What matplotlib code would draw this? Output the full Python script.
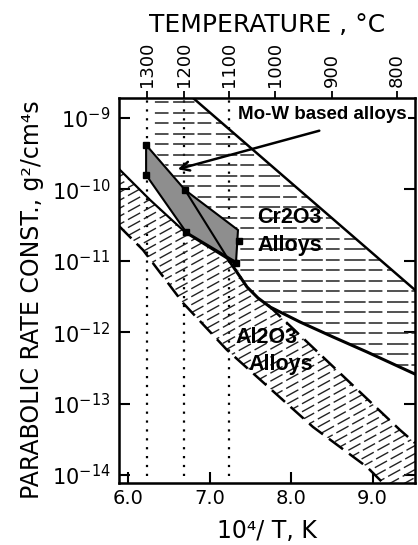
import numpy as np
import matplotlib
matplotlib.use("Agg")
import matplotlib.pyplot as plt
from matplotlib.patches import Polygon

plt.rcParams['font.family'] = ['DejaVu Sans']
plt.rcParams['mathtext.fontset'] = 'dejavusans'
ann_font = ['Liberation Sans', 'DejaVu Sans']

# temperature scale on top (deg C) and where each sits on the 10^4/T axis
temp_c = [1300, 1200, 1100, 1000, 900, 800]
temp_x = [6.225, 6.683, 7.236, 7.801, 8.501, 9.300]

x_ticks = [6.0, 7.0, 8.0, 9.0]
y_exp = [-9, -10, -11, -12, -13, -14]

# Cr2O3 alloys band (10^4/T, log10 kp)
cr_upper_x = [6.794, 9.521]
cr_upper_logk = [-8.72, -11.409]
cr_lower_x = [6.695, 7.248, 7.457, 7.592, 7.740, 8.108, 8.514, 8.931, 9.545]
cr_lower_logk = [-10.008, -11.017, -11.367, -11.521, -11.647, -11.857, -12.067, -12.277, -12.599]

# Al2O3 alloys band
al_upper_x = [5.884, 6.266, 6.708, 7.322, 7.469, 7.715, 9.337, 9.521]
al_upper_logk = [-9.714, -10.148, -10.611, -11.045, -11.409, -11.619, -13.370, -13.552]
al_lower_x = [5.884, 6.179, 6.671, 7.211, 8.268, 8.931, 9.128, 9.521]
al_lower_logk = [-10.513, -10.849, -11.591, -12.249, -13.328, -13.888, -14.112, -14.112]

# Mo-W based alloys (shaded area + measured points)
mow_x = [6.217, 6.695, 7.346, 7.322, 6.708, 6.217]
mow_logk = [-9.378, -10.008, -10.569, -11.017, -10.597, -9.798]
mow_pts_x = [6.217, 6.217, 6.695, 6.708, 7.359, 7.322]
mow_pts_logk = [-9.378, -9.798, -10.008, -10.597, -10.720, -11.030]

xlim = (5.884, 9.521)
ylim_log = (-14.112, -8.72)

fig = plt.figure(figsize=(4.18, 5.45), dpi=100)
ax = fig.add_axes([0.2847, 0.1138, 0.7081, 0.7064])
ax.set_yscale('log')
ax.set_xlim(*xlim)
ax.set_ylim(10 ** ylim_log[0], 10 ** ylim_log[1])

def pts(xs, ls):
    return np.column_stack([xs, 10 ** np.asarray(ls)])

# dotted isotherms at 1300, 1200, 1100 C
for xv in temp_x[:3]:
    ax.plot([xv, xv], [10 ** -14.02, 10 ** ylim_log[1]], color='black',
            lw=1.6, linestyle=(0, (1, 3)), zorder=1)

# --- Cr2O3 band: horizontal dashed hatching
cr_clip = np.vstack([
    pts([6.32], [ylim_log[1]]),
    pts(cr_upper_x, cr_upper_logk),
    pts([9.521], [-12.6]),
    pts(cr_lower_x[::-1], cr_lower_logk[::-1]),
    pts([6.32], [-9.47]),
])
cr_patch = Polygon(cr_clip, closed=True, fill=False, lw=0, transform=ax.transData)
ax.add_patch(cr_patch)
for lk in np.arange(-8.78, -12.7, -0.147):
    ln, = ax.plot([5.8, 9.6], [10 ** lk, 10 ** lk], color='#222222', lw=1.1,
                  linestyle=(0, (9, 3, 14, 2)), zorder=2)
    ln.set_clip_path(cr_patch)

# --- Al2O3 band: inclined dashed hatching
al_clip = np.vstack([pts(al_upper_x, al_upper_logk),
                     pts(al_lower_x[::-1], al_lower_logk[::-1])])
al_patch = Polygon(al_clip, closed=True, fill=False, lw=0, transform=ax.transData)
ax.add_patch(al_patch)
hx = np.array([5.8, 9.6])
for c in np.arange(-9.3, -16.8, -0.112):
    ln, = ax.plot(hx, 10 ** (c + 0.627 * (hx - 6.0)), color='#222222', lw=1.0,
                  linestyle=(0, (10, 3)), zorder=2)
    ln.set_clip_path(al_patch)

# band boundaries
ax.plot(cr_upper_x, 10 ** np.asarray(cr_upper_logk), color='black', lw=1.8, zorder=4)
ax.plot(cr_lower_x, 10 ** np.asarray(cr_lower_logk), color='black', lw=2.2, zorder=4)
ax.plot(al_upper_x[:4], 10 ** np.asarray(al_upper_logk[:4]), color='black', lw=1.6, zorder=4)
ax.plot(al_upper_x[5:], 10 ** np.asarray(al_upper_logk[5:]), color='black', lw=1.8,
        linestyle=(0, (7, 3)), zorder=4)
ax.plot(al_lower_x[:-1], 10 ** np.asarray(al_lower_logk[:-1]), color='black', lw=1.8,
        linestyle=(0, (7, 3)), zorder=4)

# Mo-W shaded area
ax.add_patch(Polygon(pts(mow_x, mow_logk), closed=True, facecolor='#8e8e8e',
                     edgecolor='black', lw=1.5, zorder=5))
ax.plot([mow_x[1], cr_lower_x[1]], [10 ** mow_logk[1], 10 ** cr_lower_logk[1]],
        color='black', lw=1.5, zorder=6)
ax.plot(mow_pts_x, 10 ** np.asarray(mow_pts_logk), 's', color='black', ms=5, zorder=7)

# labels
ax.annotate('', xy=(6.573, 10 ** -9.728), xytext=(8.378, 10 ** -9.168),
            arrowprops=dict(arrowstyle='->', lw=1.8, color='black', mutation_scale=16),
            zorder=8)
ax.text(7.346, 10 ** -8.958, 'Mo-W based alloys', fontsize=13.5, fontweight='bold',
        family=ann_font, ha='left', va='center', zorder=9,
        bbox=dict(facecolor='white', edgecolor='none', pad=1))
ax.text(7.58, 10 ** -10.387, 'Cr2O3', fontsize=15.5, fontweight='bold', family=ann_font,
        ha='left', va='center', zorder=9)
ax.text(7.59, 10 ** -10.779, 'Alloys', fontsize=15.5, fontweight='bold', family=ann_font,
        ha='left', va='center', zorder=9)
ax.text(7.31, 10 ** -12.081, 'Al2O3', fontsize=15.5, fontweight='bold', family=ann_font,
        ha='left', va='center', zorder=9)
ax.text(7.47, 10 ** -12.459, 'Alloys', fontsize=15.5, fontweight='bold', family=ann_font,
        ha='left', va='center', zorder=9)

# axes
ax.set_xticks(x_ticks)
ax.set_xticklabels(['%.1f' % v for v in x_ticks], fontsize=14)
ax.set_yticks([10.0 ** e for e in y_exp])
ax.set_yticklabels([r'$10^{%d}$' % e for e in y_exp], fontsize=15)
ax.minorticks_off()
ax.tick_params(axis='both', direction='in', length=8, width=1.5, pad=4)
ax.tick_params(axis='y', right=True, pad=6)
for s in ax.spines.values():
    s.set_linewidth(1.8)
ax.set_xlabel('10⁴/ T, K', fontsize=17, labelpad=8)

ax2 = ax.twiny()
ax2.set_xlim(*xlim)
ax2.set_xticks(temp_x)
ax2.set_xticklabels([str(t) for t in temp_c], rotation=90, fontsize=13)
ax2.tick_params(axis='x', direction='out', length=5, width=1.3, pad=3)
ax2.set_xlabel('TEMPERATURE , °C', fontsize=18, labelpad=7)

fig.text(0.0766, 0.4495, 'PARABOLIC RATE CONST., g²/cm⁴s', rotation=90,
         fontsize=17, ha='center', va='center')

fig.savefig('out.png', dpi=100)
